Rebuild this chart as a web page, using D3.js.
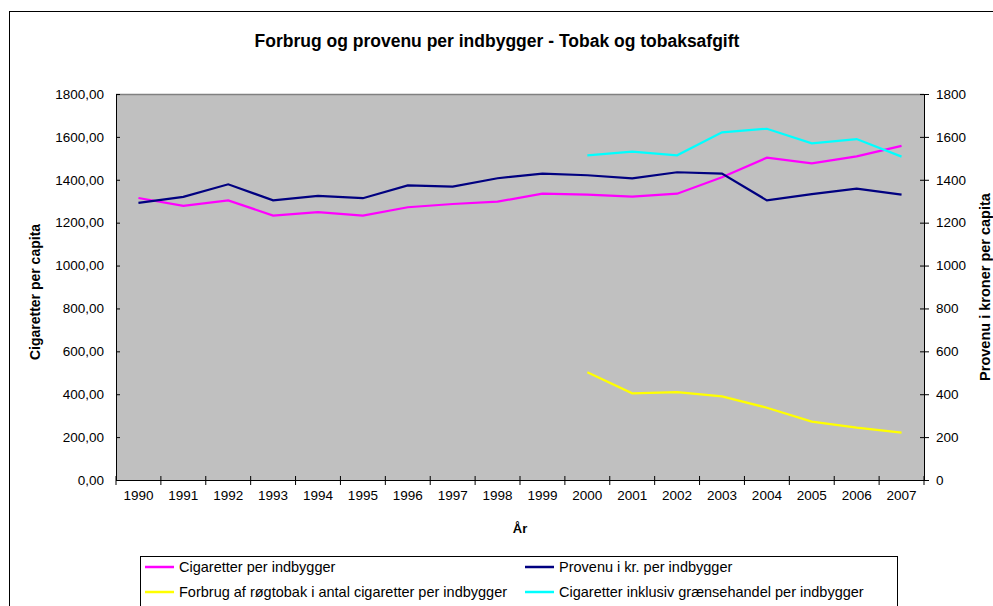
<!DOCTYPE html>
<html lang="en">
<head>
  <meta charset="UTF-8">
  <title>Forbrug og provenu per indbygger</title>
  <script src="https://d3js.org/d3.v7.min.js"></script>
  <style>
    body { margin: 0; background: #fff; }
    svg text { font-family: "Liberation Sans", Arial, sans-serif; fill: #000; }
  </style>
</head>
<body>
  <div id="chart"></div>
  <script>
    // years on the x axis
    const years = [1990, 1991, 1992, 1993, 1994, 1995, 1996, 1997, 1998,
                   1999, 2000, 2001, 2002, 2003, 2004, 2005, 2006, 2007];

    // left axis series
    const cigaretter = [1315, 1278, 1304, 1233, 1249, 1233, 1272, 1287, 1298,
                        1335, 1331, 1321, 1335, 1412, 1503, 1477, 1509, 1558];
    const roegtobak = [null, null, null, null, null, null, null, null, null,
                       null, 502, 404, 410, 390, 337, 272, 244, 221];
    const graensehandel = [null, null, null, null, null, null, null, null, null,
                           null, 1514, 1531, 1514, 1621, 1638, 1570, 1590, 1508];
    // right axis series
    const provenu = [1292, 1320, 1379, 1304, 1325, 1314, 1374, 1368, 1407,
                     1429, 1421, 1407, 1435, 1429, 1304, 1333, 1359, 1331];

    const yTicks = [0, 200, 400, 600, 800, 1000, 1200, 1400, 1600, 1800];

    const W = 993, H = 606;
    const m = { left: 116, right: 924, top: 94, bottom: 480 };

    const svg = d3.select('#chart').append('svg')
      .attr('width', W).attr('height', H);

    // outer frame
    svg.append('rect')
      .attr('x', 9.5).attr('y', 11.5)
      .attr('width', W + 10).attr('height', H + 10)
      .attr('fill', '#fff').attr('stroke', '#000').attr('stroke-width', 1);

    svg.append('text')
      .attr('x', 497).attr('y', 47)
      .attr('text-anchor', 'middle')
      .style('font-size', '17.5px').style('font-weight', 'bold')
      .text('Forbrug og provenu per indbygger - Tobak og tobaksafgift');

    const x = d3.scaleBand().domain(years).range([m.left, m.right]);
    const yL = d3.scaleLinear().domain([0, 1800]).range([m.bottom, m.top]);
    const yR = d3.scaleLinear().domain([0, 1800]).range([m.bottom, m.top]);

    // plot area
    svg.append('rect')
      .attr('x', m.left).attr('y', m.top)
      .attr('width', m.right - m.left).attr('height', m.bottom - m.top)
      .attr('fill', '#c0c0c0');
    svg.append('line')
      .attr('x1', m.left).attr('x2', m.right)
      .attr('y1', m.top + 0.5).attr('y2', m.top + 0.5)
      .attr('stroke', '#808080').attr('stroke-width', 1.5);

    // left axis
    const gL = svg.append('g').attr('transform', `translate(${m.left},0)`)
      .call(d3.axisLeft(yL).tickValues(yTicks)
        .tickFormat(d => d3.format('.2f')(d).replace('.', ','))
        .tickSizeInner(5).tickSizeOuter(0).tickPadding(7));
    gL.selectAll('.tick line').attr('x2', 4);

    // right axis
    const gR = svg.append('g').attr('transform', `translate(${m.right},0)`)
      .call(d3.axisRight(yR).tickValues(yTicks).tickFormat(d3.format('d'))
        .tickSizeInner(5).tickSizeOuter(0).tickPadding(7));
    gR.selectAll('.tick line').attr('x2', 5).attr('x1', -4);

    // x axis with ticks between categories
    const gX = svg.append('g').attr('transform', `translate(0,${m.bottom})`)
      .call(d3.axisBottom(x).tickSize(0).tickPadding(10));
    gX.selectAll('.tick').append('line')
      .attr('x1', -x.bandwidth() / 2).attr('x2', -x.bandwidth() / 2)
      .attr('y1', -4).attr('y2', 5).attr('stroke', '#000');
    gX.append('line')
      .attr('x1', m.right).attr('x2', m.right)
      .attr('y1', -4).attr('y2', 5).attr('stroke', '#000');

    [gL, gR, gX].forEach(g => {
      g.selectAll('.domain').attr('stroke', '#000');
      g.selectAll('text').style('font-size', '13.5px')
        .style('font-family', '"Liberation Sans", Arial, sans-serif');
    });

    // axis titles
    svg.append('text')
      .attr('transform', `translate(40,${(m.top + m.bottom) / 2 + 5}) rotate(-90)`)
      .attr('text-anchor', 'middle')
      .style('font-size', '14px').style('font-weight', 'bold')
      .text('Cigaretter per capita');
    svg.append('text')
      .attr('transform', `translate(990,${(m.top + m.bottom) / 2}) rotate(-90)`)
      .attr('text-anchor', 'middle')
      .style('font-size', '14.5px').style('font-weight', 'bold')
      .text('Provenu i kroner per capita');
    svg.append('text')
      .attr('x', (m.left + m.right) / 2).attr('y', 533)
      .attr('text-anchor', 'middle')
      .style('font-size', '13px').style('font-weight', 'bold')
      .text('År');

    const series = [
      { name: 'Cigaretter per indbygger', values: cigaretter, color: '#ff00ff', y: yL },
      { name: 'Provenu i kr. per indbygger', values: provenu, color: '#000080', y: yR },
      { name: 'Forbrug af røgtobak i antal cigaretter per indbygger', values: roegtobak, color: '#ffff00', y: yL },
      { name: 'Cigaretter inklusiv grænsehandel per indbygger', values: graensehandel, color: '#00ffff', y: yL }
    ];

    series.forEach(s => {
      const line = d3.line()
        .defined(d => d != null)
        .x((d, i) => x(years[i]) + x.bandwidth() / 2)
        .y(d => s.y(d));
      svg.append('path')
        .datum(s.values)
        .attr('d', line)
        .attr('fill', 'none')
        .attr('stroke', s.color)
        .attr('stroke-width', 2.2);
    });

    // legend
    svg.append('rect')
      .attr('x', 140.5).attr('y', 556.5)
      .attr('width', 757).attr('height', 60)
      .attr('fill', '#fff').attr('stroke', '#000');

    const legCols = [145, 525];
    const legRows = [567, 592];
    series.forEach((s, i) => {
      const lx = legCols[i % 2], ly = legRows[Math.floor(i / 2)];
      svg.append('line')
        .attr('x1', lx).attr('x2', lx + 29)
        .attr('y1', ly).attr('y2', ly)
        .attr('stroke', s.color).attr('stroke-width', 2.5);
      svg.append('text')
        .attr('x', lx + 34).attr('y', ly + 5)
        .style('font-size', '14.5px')
        .text(s.name);
    });
  </script>
</body>
</html>
